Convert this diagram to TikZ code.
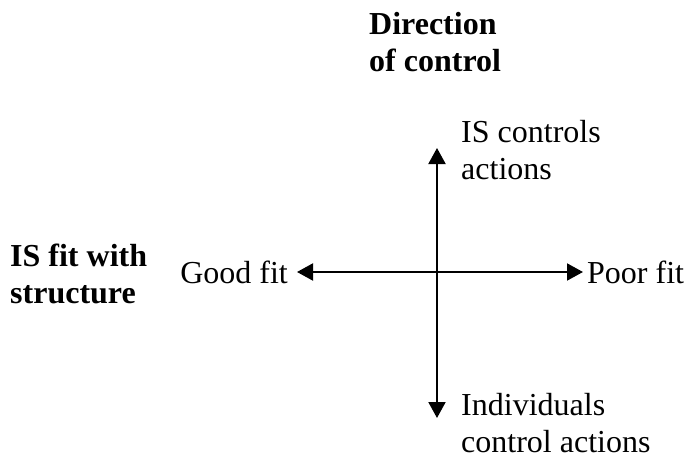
\documentclass[tikz,border=0pt]{standalone}
\usepackage{fontspec}
\setmainfont{Liberation Serif}
\usetikzlibrary{arrows.meta}
\begin{document}
\begin{tikzpicture}[
	x=1pt, y=1pt,
	font=\fontsize{32}{37}\selectfont
]
\tikzset{
    lbl/.style = {inner sep=0pt, align=left},
    lblb/.style = {inner sep=0pt, align=left, font=\fontsize{32}{37}\selectfont\bfseries},
    axis/.style = {line width=2pt, {Triangle[length=16pt,width=17pt]}-{Triangle[length=16pt,width=17pt]}},
}
\useasboundingbox (0,0) rectangle (689,459);
%
\coordinate (c) at (437,187);
\coordinate (l) at (297,187);
\coordinate (r) at (583,187);
\coordinate (t) at (437,311);
\coordinate (b) at (437,41);
%
\node[lblb, anchor=north west] at (369,447) (dir) {Direction\\of control};
\node[lblb, anchor=north west] at (10,215) (fit) {IS fit with\\structure};
\node[lbl, anchor=east] at (288,187) (good) {Good fit};
\node[lbl, anchor=west] at (587,187) (poor) {Poor fit};
\node[lbl, anchor=north west] at (461,339) (isc) {IS controls\\actions};
\node[lbl, anchor=north west] at (461,66) (ind) {Individuals\\control actions};
%
\draw[axis] (l) -- (r);
\draw[axis] (b) -- (t);
\end{tikzpicture}
\end{document}
